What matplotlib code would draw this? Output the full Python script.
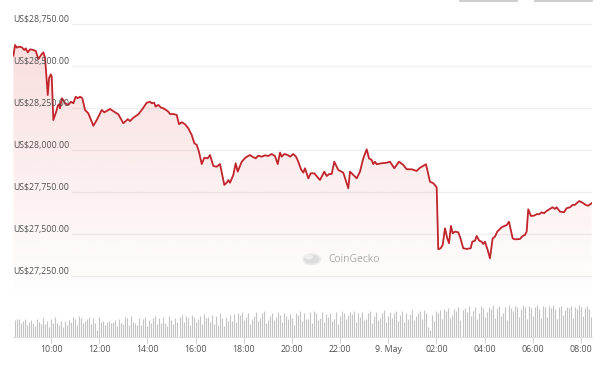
import numpy as np
import matplotlib
matplotlib.use("Agg")
import matplotlib.pyplot as plt
import matplotlib.transforms as mtransforms
from matplotlib.lines import Line2D
from matplotlib.patches import Circle

plt.rcParams['font.family'] = ['Open Sans', 'DejaVu Sans']

# BTC price, hours counted from 8 May 00:00
hours = [8.435, 8.506, 8.576, 8.672, 8.784, 8.892, 8.950, 9.033, 9.128, 9.265,
         9.365, 9.473, 9.585, 9.680, 9.751, 9.822, 9.863, 9.917, 9.988, 10.029,
         10.095, 10.166, 10.237, 10.278, 10.332, 10.374, 10.444, 10.511, 10.581, 10.718,
         10.830, 10.926, 11.025, 11.108, 11.204, 11.299, 11.411, 11.548, 11.660, 11.756,
         11.897, 12.105, 12.213, 12.449, 12.657, 12.794, 13.001, 13.184, 13.279, 13.416,
         13.624, 13.765, 13.973, 14.110, 14.180, 14.276, 14.346, 14.454, 14.566, 14.662,
         14.774, 14.869, 14.940, 15.077, 15.218, 15.313, 15.425, 15.562, 15.699, 15.841,
         15.949, 16.048, 16.144, 16.256, 16.364, 16.505, 16.600, 16.737, 16.878, 17.015,
         17.194, 17.293, 17.360, 17.430, 17.567, 17.667, 17.750, 17.916, 18.082, 18.261,
         18.356, 18.497, 18.605, 18.746, 18.883, 19.020, 19.161, 19.298, 19.411, 19.506,
         19.577, 19.685, 19.826, 19.921, 20.058, 20.170, 20.266, 20.378, 20.473, 20.544,
         20.681, 20.780, 20.930, 21.166, 21.345, 21.445, 21.553, 21.652, 21.760, 21.926,
         22.134, 22.341, 22.412, 22.549, 22.690, 22.827, 22.964, 23.105, 23.201, 23.313,
         23.379, 23.449, 23.520, 23.728, 23.935, 24.072, 24.251, 24.446, 24.624, 24.766,
         24.973, 25.180, 25.318, 25.567, 25.733, 25.870, 26.011, 26.077, 26.177, 26.260,
         26.356, 26.451, 26.522, 26.604, 26.675, 26.770, 26.907, 26.978, 27.115, 27.256,
         27.422, 27.489, 27.601, 27.671, 27.779, 27.879, 27.945, 28.016, 28.128, 28.223,
         28.335, 28.431, 28.527, 28.709, 28.817, 28.917, 29.012, 29.166, 29.261, 29.469,
         29.581, 29.676, 29.747, 29.813, 29.925, 30.050, 30.187, 30.270, 30.369, 30.465,
         30.577, 30.714, 30.826, 30.921, 30.992, 31.129, 31.295, 31.407, 31.544, 31.656,
         31.751, 31.822, 31.930, 32.071, 32.196, 32.304, 32.445]
price = [28563, 28627, 28611, 28617, 28613, 28597, 28607, 28583, 28601, 28597,
         28591, 28543, 28567, 28583, 28551, 28408, 28329, 28429, 28452, 28438,
         28180, 28210, 28240, 28266, 28274, 28250, 28310, 28299, 28280, 28270,
         28289, 28280, 28319, 28310, 28319, 28310, 28240, 28220, 28180, 28146,
         28180, 28240, 28226, 28246, 28226, 28214, 28161, 28185, 28174, 28194,
         28214, 28240, 28283, 28289, 28280, 28283, 28260, 28270, 28254, 28250,
         28240, 28230, 28216, 28216, 28210, 28155, 28167, 28155, 28131, 28091,
         28042, 28032, 27990, 27918, 27956, 27952, 27972, 27907, 27902, 27918,
         27794, 27807, 27823, 27807, 27853, 27923, 27873, 27932, 27958, 27972,
         27962, 27952, 27968, 27962, 27970, 27966, 27978, 27966, 27918, 27986,
         27962, 27978, 27972, 27962, 27978, 27962, 27932, 27887, 27867, 27893,
         27833, 27863, 27863, 27823, 27873, 27847, 27859, 27859, 27932, 27883,
         27867, 27774, 27873, 27853, 27833, 27873, 27952, 28006, 27952, 27942,
         27918, 27932, 27917, 27923, 27926, 27932, 27893, 27932, 27913, 27887,
         27887, 27877, 27896, 27917, 27813, 27804, 27780, 27411, 27417, 27436,
         27536, 27476, 27447, 27550, 27506, 27516, 27512, 27486, 27417, 27413,
         27417, 27456, 27462, 27490, 27462, 27456, 27442, 27456, 27407, 27357,
         27476, 27486, 27516, 27542, 27549, 27555, 27575, 27476, 27470, 27472,
         27490, 27496, 27516, 27649, 27609, 27611, 27621, 27619, 27631, 27625,
         27639, 27651, 27661, 27651, 27661, 27635, 27631, 27655, 27661, 27675,
         27675, 27685, 27698, 27688, 27675, 27670, 27685]

# 5-minute volume bars from 08:30, relative units
volume = [17, 18, 18, 14, 16, 18, 12, 15, 17, 14, 11, 18,
          15, 13, 19, 13, 16, 10, 18, 14, 20, 14, 12, 16,
          10, 16, 12, 17, 15, 20, 18, 12, 21, 19, 14, 16,
          18, 20, 13, 19, 14, 7, 20, 15, 16, 12, 15, 16,
          14, 15, 17, 11, 18, 14, 13, 20, 19, 12, 21, 15,
          14, 12, 19, 12, 18, 20, 11, 17, 14, 19, 21, 13,
          19, 14, 20, 14, 11, 21, 17, 13, 19, 15, 20, 22,
          15, 21, 19, 12, 22, 20, 15, 18, 21, 13, 23, 19,
          20, 15, 22, 13, 21, 12, 24, 19, 11, 20, 16, 22,
          16, 23, 15, 24, 22, 25, 17, 20, 24, 13, 18, 21,
          25, 16, 19, 24, 26, 14, 17, 21, 24, 17, 20, 25,
          22, 15, 24, 21, 18, 23, 19, 12, 24, 22, 26, 16,
          24, 18, 18, 25, 14, 26, 24, 17, 19, 25, 15, 23,
          20, 24, 16, 18, 25, 13, 21, 26, 24, 18, 22, 25,
          23, 26, 15, 24, 20, 25, 17, 18, 24, 26, 14, 21,
          25, 17, 19, 24, 27, 15, 21, 25, 19, 24, 26, 16,
          22, 26, 15, 24, 18, 23, 27, 17, 21, 24, 26, 18,
          27, 24, 10, 7, 22, 16, 26, 24, 27, 18, 28, 26,
          29, 19, 22, 28, 26, 30, 17, 27, 29, 25, 31, 21,
          26, 30, 18, 24, 31, 29, 20, 25, 30, 28, 32, 19,
          29, 31, 21, 24, 30, 17, 32, 29, 26, 31, 30, 20,
          28, 32, 30, 18, 31, 29, 21, 30, 32, 28, 19, 31,
          30, 20, 31, 29, 32, 28, 18, 30, 31, 22, 27, 30,
          29, 31, 19, 30, 28, 32, 30, 21, 29, 31, 28, 20]
vol_hours = 8.5 + np.arange(len(volume)) / 12

y_ticks = [27250, 27500, 27750, 28000, 28250, 28500, 28750]
x_ticks = [10, 12, 14, 16, 18, 20, 22, 24, 26, 28, 30, 32]
x_labels = ['10:00', '12:00', '14:00', '16:00', '18:00', '20:00', '22:00',
            '9. May', '02:00', '04:00', '06:00', '08:00']

line_color = '#c2242c'
text_color = '#505050'
xlim = (8.42, 32.46)

fig = plt.figure(figsize=(6, 3.72), dpi=100)
fig.patch.set_facecolor('white')

# price panel
ax = fig.add_axes([13 / 600, 1 - 300 / 372, 579 / 600, 290 / 372])
ylim = (27109, 28835)
ax.set_xlim(*xlim)
ax.set_ylim(*ylim)
ax.axis('off')

for v in y_ticks:
    ax.axhline(v, xmin=0.102, xmax=1, color='#efefef', lw=0.9, zorder=0)
    trans = mtransforms.offset_copy(ax.get_yaxis_transform(), fig=fig, x=0, y=4.5, units='dots')
    ax.text(0, v, f"US${v:,.2f}", transform=trans, ha='left', va='center',
            fontsize=6.3, color=text_color, zorder=5)

# gradient area under the line
poly = ax.fill_between(hours, price, ylim[0], color='none', lw=0)
grad = np.zeros((256, 1, 4))
grad[:, 0, :3] = matplotlib.colors.to_rgb('#e03a3a')
grad[:, 0, 3] = np.linspace(0.19, 0.0, 256)
im = ax.imshow(grad, extent=[xlim[0], xlim[1], ylim[0], ylim[1]], origin='upper',
               aspect='auto', zorder=1, interpolation='bilinear')
im.set_clip_path(poly.get_paths()[0], transform=ax.transData)
ax.set_xlim(*xlim)
ax.set_ylim(*ylim)

ax.plot(hours, price, color=line_color, lw=1.3, zorder=3, solid_joinstyle='round')

# volume panel
axv = fig.add_axes([13 / 600, 1 - 337 / 372, 579 / 600, 37 / 372])
axv.vlines(vol_hours, 0, volume, colors='#c4c4c4', lw=0.8, antialiased=True)
axv.set_xlim(*xlim)
axv.set_ylim(0, 37)
for s in ['top', 'left', 'right']:
    axv.spines[s].set_visible(False)
axv.spines['bottom'].set_color('#dddddd')
axv.spines['bottom'].set_linewidth(0.8)
axv.set_yticks([])
axv.set_xticks(x_ticks)
axv.set_xticklabels(x_labels)
axv.tick_params(axis='x', length=4, width=0.8, color='#d6d6d6', labelsize=6.3,
                labelcolor=text_color, pad=2)
axv.patch.set_alpha(0)

# watermark
fig.add_artist(Circle((311.7 / 600, 1 - 259.3 / 372), 8.5 / 600, transform=fig.transFigure,
                      facecolor='#dcdcdc', edgecolor='#ebebeb', lw=1.2, zorder=2))
fig.add_artist(Circle((309 / 600, 1 - 257 / 372), 4 / 600, transform=fig.transFigure,
                      facecolor='#efefef', edgecolor='none', zorder=2))
fig.text(328 / 600, 1 - 259.5 / 372, 'CoinGecko', fontsize=7.4, color='#ababab',
         ha='left', va='center')

# cut-off buttons at the top edge
fig.add_artist(Line2D([460 / 600, 517 / 600], [1 - 0.8 / 372] * 2, color='#c9c9c9', lw=1.3))
fig.add_artist(Line2D([535 / 600, 592 / 600], [1 - 0.8 / 372] * 2, color='#c9c9c9', lw=1.3))

fig.savefig('out.png', dpi=100, facecolor='white')
